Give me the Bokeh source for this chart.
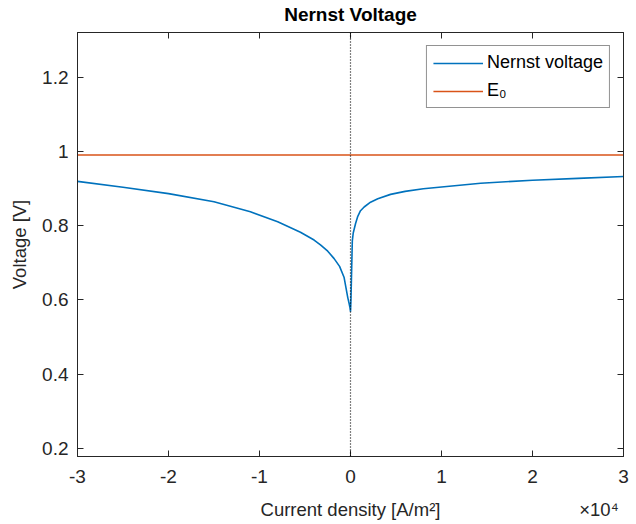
from bokeh.plotting import figure
from bokeh.models import Range1d, LinearAxis, FixedTicker, Span, Legend, LegendItem
from bokeh.embed import file_html
from bokeh.resources import INLINE

# ---- data ----
current_density = [-30000, -25000, -20000, -15000, -11000, -8000, -5500, -4000, -3300,
                   -2500, -1800, -1200, -700, -300, -150, -50, 0, 50, 200, 300, 550,
                   800, 1100, 1500, 2200, 3000, 4400, 6000, 8000, 14300, 20000, 25000, 30000]
nernst_voltage = [0.919, 0.903, 0.886, 0.864, 0.837, 0.810, 0.782, 0.761, 0.748,
                  0.731, 0.711, 0.690, 0.660, 0.606, 0.590, 0.578, 0.568, 0.600, 0.759, 0.780, 0.805,
                  0.825, 0.840, 0.850, 0.863, 0.872, 0.884, 0.892, 0.899, 0.914, 0.922, 0.927, 0.932]
e0_x = [-30000, 30000]
e0_y = [0.99, 0.99]

x_ticks = [-30000, -20000, -10000, 0, 10000, 20000, 30000]
x_tick_labels = ["-3", "-2", "-1", "0", "1", "2", "3"]
y_ticks = [0.2, 0.4, 0.6, 0.8, 1.0, 1.2]
y_tick_labels = ["0.2", "0.4", "0.6", "0.8", "1", "1.2"]
title_text = "Nernst Voltage"
x_label = "Current density [A/m²]"
x_exponent = "×10⁴"
y_label = "Voltage [V]"

FONT = "Liberation Sans"
AX = "#262626"
BLUE = "#0072BD"
ORANGE = "#D95319"

p = figure(width=636, height=524, output_backend="svg", toolbar_location=None,
           x_range=Range1d(-30000, 30000), y_range=Range1d(0.178, 1.32),
           min_border_left=77, min_border_right=13, min_border_top=32, min_border_bottom=68)

p.grid.visible = False
p.outline_line_color = AX
p.outline_line_width = 1

def style_axis(ax, ticks, labels, show_labels):
    ax.ticker = FixedTicker(ticks=ticks)
    if show_labels:
        ax.major_label_overrides = {t: l for t, l in zip(ticks, labels)}
    else:
        ax.major_label_overrides = {t: "" for t in ticks}
    ax.major_tick_in = 6
    ax.major_tick_out = 0
    ax.minor_tick_line_color = None
    ax.axis_line_color = AX
    ax.major_tick_line_color = AX
    ax.major_label_text_font = FONT
    ax.major_label_text_font_size = "19px"
    ax.major_label_text_color = AX
    ax.axis_label_text_font = FONT
    ax.axis_label_text_font_size = "18.5px"
    ax.axis_label_text_font_style = "normal"
    ax.axis_label_text_color = AX

xa = p.xaxis[0]
style_axis(xa, x_ticks, x_tick_labels, True)
xa.major_label_standoff = 13

# second row below the x axis: axis title (centred) and the x10^4 exponent (right)
xlab = LinearAxis()
xlab.ticker = FixedTicker(ticks=[0, 27300])
xlab.major_label_overrides = {0: x_label, 27300: x_exponent}
xlab.axis_line_color = None
xlab.major_tick_line_color = None
xlab.minor_tick_line_color = None
xlab.major_tick_in = 0
xlab.major_tick_out = 0
xlab.major_label_standoff = 13
xlab.major_label_text_font = FONT
xlab.major_label_text_font_size = "18.5px"
xlab.major_label_text_color = AX
p.add_layout(xlab, "below")

ya = p.yaxis[0]
style_axis(ya, y_ticks, y_tick_labels, True)
ya.axis_label = y_label
ya.major_label_standoff = 9
ya.axis_label_standoff = 9

# top axis: inward ticks, no numbers, carries the chart title
top = LinearAxis()
style_axis(top, x_ticks, x_tick_labels, False)
top.major_label_standoff = 0
top.major_label_text_font_size = "0px"
top.axis_label = title_text
top.axis_label_text_font_size = "19px"
top.axis_label_text_font_style = "bold"
top.axis_label_text_color = "black"
top.axis_label_standoff = 8
p.add_layout(top, "above")

right = LinearAxis()
style_axis(right, y_ticks, y_tick_labels, False)
right.major_label_standoff = 0
right.major_label_text_font_size = "0px"
p.add_layout(right, "right")

p.add_layout(Span(location=0, dimension="height", line_color="black",
                  line_dash="1 2", line_width=1.2))

r1 = p.line(current_density, nernst_voltage, line_color=BLUE, line_width=1.6)
r2 = p.line(e0_x, e0_y, line_color=ORANGE, line_width=1.6)

legend = Legend(items=[LegendItem(label="Nernst voltage", renderers=[r1]),
                       LegendItem(label="E₀", renderers=[r2])],
                location="top_right", margin=13, padding=6, spacing=7,
                glyph_width=50, glyph_height=20, label_standoff=4,
                label_text_font=FONT, label_text_font_size="18px", label_text_color="black",
                border_line_color=AX, border_line_width=1, background_fill_color="white",
                background_fill_alpha=1)
p.add_layout(legend)

open("out.html", "w").write(file_html(p, INLINE))
